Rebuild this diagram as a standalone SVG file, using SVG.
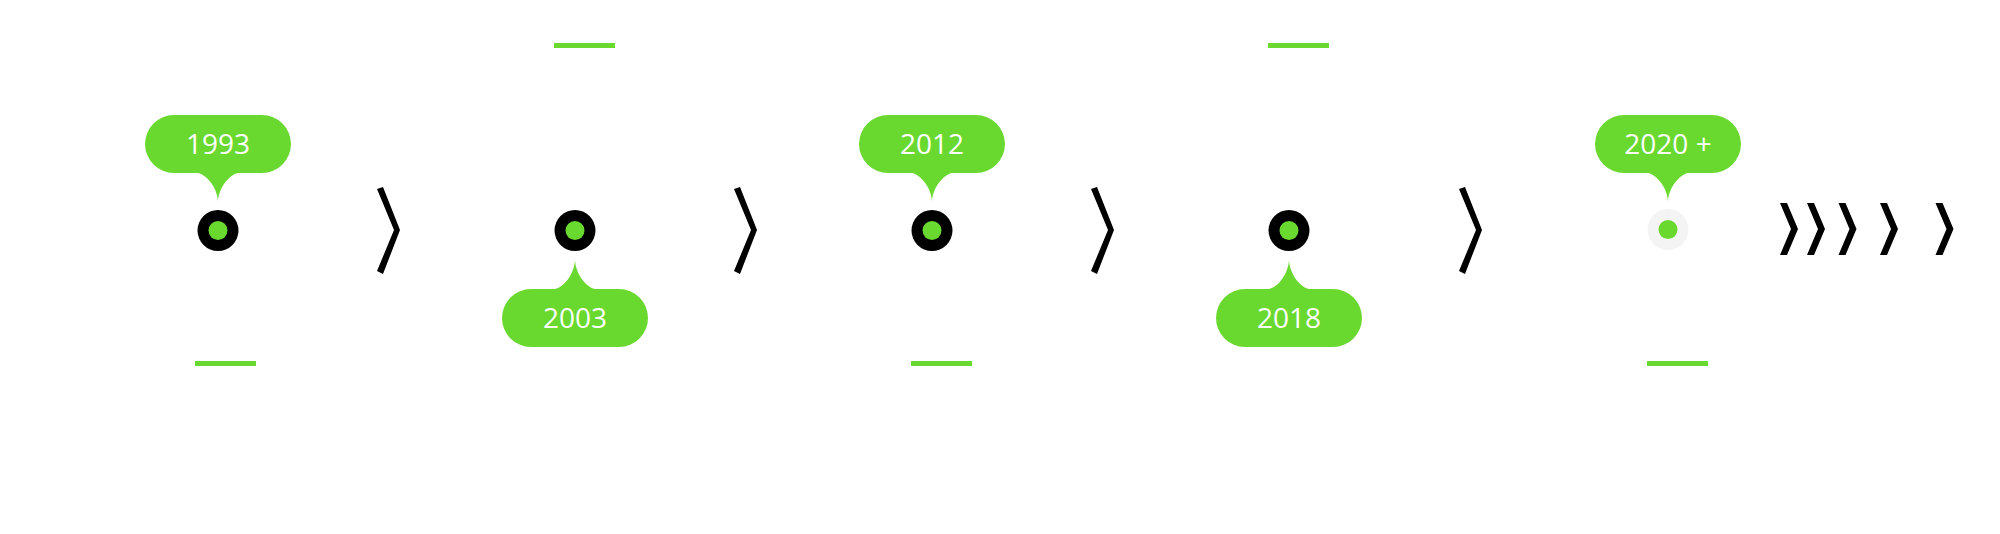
<svg xmlns="http://www.w3.org/2000/svg" xmlns:xlink="http://www.w3.org/1999/xlink" width="2000" height="534" viewBox="0 0 2000 534">
<style>
  .green { fill: #69d82f; }
  .ring { fill: #000000; }
  .ring-light { fill: #f4f4f4; }
  .chev { fill: #000000; }
  .label { font-family: "Open Sans", "Noto Sans", "Liberation Sans", sans-serif; font-size: 28px; fill: #ffffff; text-anchor: middle; }
</style>
<defs>
  <path id="callout-up" d="M-44,115 H44 A29,29 0 0 1 44,173 H20 C10,175 0,190 0,202 C0,190 -10,175 -20,173 H-44 A29,29 0 0 1 -44,115 Z"/>
  <path id="callout-down" d="M-44,289 H-20 C-10,287 0,272 0,259 C0,272 10,287 20,289 H44 A29,29 0 0 1 44,347 H-44 A29,29 0 0 1 -44,289 Z"/>
  <polygon id="chev-big" points="0,189 6,187 23,230 6,274 0,271 17,230"/>
  <polygon id="chev-small" points="0,203 7,203 18,229 7,255 0,255 11,229"/>
</defs>
<rect width="2000" height="534" fill="#ffffff"/>

<g id="connectors">
  <use xlink:href="#chev-big" class="chev" transform="translate(377,0)"/>
  <use xlink:href="#chev-big" class="chev" transform="translate(734,0)"/>
  <use xlink:href="#chev-big" class="chev" transform="translate(1091,0)"/>
  <use xlink:href="#chev-big" class="chev" transform="translate(1459,0)"/>
  <use xlink:href="#chev-small" class="chev" transform="translate(1780,0)"/>
  <use xlink:href="#chev-small" class="chev" transform="translate(1807,0)"/>
  <use xlink:href="#chev-small" class="chev" transform="translate(1838.5,0)"/>
  <use xlink:href="#chev-small" class="chev" transform="translate(1880,0)"/>
  <use xlink:href="#chev-small" class="chev" transform="translate(1935.5,0)"/>
</g>

<g id="node-1993" transform="translate(218,0)">
  <use xlink:href="#callout-up" class="green"/>
  <text class="label" x="0" y="154">1993</text>
  <circle class="ring" cx="0" cy="230.5" r="20.5"/>
  <circle class="green" cx="0" cy="230.5" r="9.5"/>
  <rect class="green" x="-23" y="361" width="61" height="5"/>
</g>

<g id="node-2003" transform="translate(575,0)">
  <rect class="green" x="-21" y="43" width="61" height="5"/>
  <circle class="ring" cx="0" cy="230.5" r="20.5"/>
  <circle class="green" cx="0" cy="230.5" r="9.5"/>
  <use xlink:href="#callout-down" class="green"/>
  <text class="label" x="0" y="328">2003</text>
</g>

<g id="node-2012" transform="translate(932,0)">
  <use xlink:href="#callout-up" class="green"/>
  <text class="label" x="0" y="154">2012</text>
  <circle class="ring" cx="0" cy="230.5" r="20.5"/>
  <circle class="green" cx="0" cy="230.5" r="9.5"/>
  <rect class="green" x="-21" y="361" width="61" height="5"/>
</g>

<g id="node-2018" transform="translate(1289,0)">
  <rect class="green" x="-21" y="43" width="61" height="5"/>
  <circle class="ring" cx="0" cy="230.5" r="20.5"/>
  <circle class="green" cx="0" cy="230.5" r="9.5"/>
  <use xlink:href="#callout-down" class="green"/>
  <text class="label" x="0" y="328">2018</text>
</g>

<g id="node-2020" transform="translate(1668,0)">
  <use xlink:href="#callout-up" class="green"/>
  <text class="label" x="0" y="154">2020 +</text>
  <circle class="ring-light" cx="0" cy="229.5" r="20.5"/>
  <circle class="green" cx="0" cy="229.5" r="9.5"/>
  <rect class="green" x="-21" y="361" width="61" height="5"/>
</g>
</svg>
